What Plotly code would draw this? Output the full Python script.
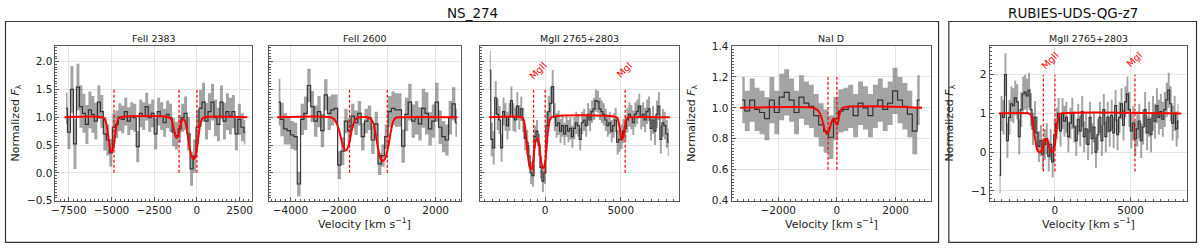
import plotly.graph_objects as go

# ---------------- data ----------------
# NS_274  FeII 2383
fe2383_v = [-7666, -7491, -7316, -7141, -6966, -6791, -6616, -6441, -6266, -6091,
            -5916, -5741, -5566, -5391, -5216, -5041, -4866, -4691, -4516, -4341,
            -4166, -3991, -3816, -3641, -3466, -3291, -3116, -2941, -2766, -2591,
            -2416, -2241, -2066, -1891, -1716, -1541, -1366, -1191, -1016, -841,
            -666, -491, -316, -141, 34, 209, 384, 559, 734, 909,
            1084, 1259, 1434, 1609, 1784, 1959, 2134, 2309, 2484, 2659,
            2834]
fe2383_f = [1.16, 0.73, 1.50, 0.52, 1.54, 1.19, 1.07, 0.87, 1.13, 1.05,
            0.93, 1.27, 1.10, 0.70, 0.59, 0.36, 0.82, 0.87, 1.00, 0.96,
            1.10, 0.93, 1.02, 0.99, 0.47, 1.07, 1.02, 1.19, 0.99, 1.07,
            0.70, 1.10, 1.02, 0.90, 1.05, 0.99, 0.73, 0.67, 0.79, 0.99,
            1.07, 0.70, 0.07, 0.30, 0.82, 1.16, 1.27, 0.93, 1.10, 1.27,
            0.99, 0.87, 1.27, 0.93, 1.10, 1.02, 1.10, 0.70, 0.96, 0.82,
            0.73]
fe2383_e = [0.28, 0.30, 0.42, 0.45, 0.42, 0.38, 0.35, 0.35, 0.33, 0.33,
            0.33, 0.30, 0.30, 0.30, 0.28, 0.25, 0.25, 0.25, 0.25, 0.25,
            0.25, 0.25, 0.25, 0.25, 0.28, 0.25, 0.25, 0.25, 0.25, 0.25,
            0.28, 0.25, 0.25, 0.25, 0.25, 0.25, 0.25, 0.25, 0.25, 0.25,
            0.30, 0.30, 0.30, 0.30, 0.30, 0.33, 0.35, 0.33, 0.33, 0.33,
            0.33, 0.30, 0.30, 0.33, 0.33, 0.33, 0.30, 0.30, 0.28, 0.25,
            0.22]
fe2383_model_v = [-7750, -5550, -5400, -5300, -5200, -5100, -5000, -4900, -4800, -4700,
                  -4600, -4450, -1650, -1500, -1400, -1300, -1200, -1100, -1000, -900,
                  -800, -700, -600, -500, -400, -300, -200, -100, 0, 100,
                  200, 300, 450, 2950]
fe2383_model_f = [1.0, 1.0, 0.97, 0.88, 0.68, 0.47, 0.37, 0.43, 0.65, 0.86,
                  0.97, 1.0, 1.0, 0.96, 0.86, 0.72, 0.63, 0.66, 0.80, 0.93,
                  0.97, 0.93, 0.80, 0.60, 0.40, 0.29, 0.25, 0.28, 0.43, 0.68,
                  0.88, 0.97, 1.0, 1.0]
fe2383_lines = [-4855, -1046, 0]

# NS_274  FeII 2600
fe2600_v = [-4485, -4346, -4207, -4068, -3929, -3790, -3651, -3512, -3373, -3234,
            -3095, -2956, -2817, -2678, -2539, -2400, -2261, -2122, -1983, -1844,
            -1705, -1566, -1427, -1288, -1149, -1010, -871, -732, -593, -454,
            -315, -176, -37, 102, 241, 380, 519, 658, 797, 936,
            1075, 1214, 1353, 1492, 1631, 1770, 1909, 2048, 2187, 2326,
            2465, 2604, 2743, 2882]
fe2600_f = [1.27, 0.96, 0.79, 0.76, 0.68, 0.65, -0.20, 0.96, 1.07, 1.57,
            1.19, 0.93, 1.10, 0.76, 1.40, 1.07, 1.13, 1.16, 0.14, 0.39,
            0.93, 0.76, 1.02, 0.90, 1.07, 0.65, 0.93, 0.99, 0.59, 0.88,
            0.16, 0.31, 0.65, 1.10, 1.16, 1.13, 1.13, 0.48, 1.05, 1.27,
            0.93, 0.99, 0.88, 1.16, 1.07, 0.79, 0.93, 1.27, 0.82, 0.65,
            0.59, 0.99, 1.24, 0.90]
fe2600_e = [0.42, 0.30, 0.28, 0.25, 0.25, 0.25, 0.22, 0.28, 0.30, 0.30,
            0.28, 0.28, 0.28, 0.30, 0.28, 0.30, 0.28, 0.25, 0.25, 0.25,
            0.22, 0.22, 0.22, 0.22, 0.22, 0.25, 0.22, 0.22, 0.25, 0.22,
            0.20, 0.20, 0.22, 0.28, 0.30, 0.30, 0.30, 0.30, 0.30, 0.33,
            0.30, 0.30, 0.30, 0.35, 0.38, 0.30, 0.30, 0.35, 0.30, 0.28,
            0.28, 0.30, 0.30, 0.25]
fe2600_model_v = [-4550, -2350, -2200, -2100, -2000, -1900, -1800, -1720, -1650, -1550,
                  -1450, -1350, -1250, -1100, -800, -650, -550, -450, -350, -250,
                  -150, -50, 50, 150, 250, 350, 500, 2900]
fe2600_model_f = [1.0, 1.0, 0.97, 0.90, 0.78, 0.60, 0.45, 0.40, 0.43, 0.58,
                  0.80, 0.93, 0.99, 1.0, 1.0, 0.96, 0.85, 0.62, 0.38, 0.24,
                  0.22, 0.30, 0.50, 0.75, 0.93, 0.99, 1.0, 1.0]
fe2600_lines = [-1560, 0]

# NS_274  MgII 2765+2803
ns_mg_v = [-3660, -3530, -3400, -3270, -3140, -3010, -2880, -2750, -2620, -2490,
           -2360, -2230, -2100, -1970, -1840, -1710, -1580, -1450, -1320, -1190,
           -1060, -930, -800, -670, -540, -410, -280, -150, -20, 110,
           240, 370, 500, 630, 760, 890, 1020, 1150, 1280, 1410,
           1540, 1670, 1800, 1930, 2060, 2190, 2320, 2450, 2580, 2710,
           2840, 2970, 3100, 3230, 3360, 3490, 3620, 3750, 3880, 4010,
           4140, 4270, 4400, 4530, 4660, 4790, 4920, 5050, 5180, 5310,
           5440, 5570, 5700, 5830, 5960, 6090, 6220, 6350, 6480, 6610,
           6740, 6870, 7000, 7130, 7260, 7390, 7520, 7650, 7780, 7910,
           8040, 8170]
ns_mg_f = [1.84, 0.60, 0.45, 1.35, 1.05, 0.95, 0.45, 1.10, 1.00, 0.85,
           1.00, 1.30, 1.00, 0.95, 1.20, 1.00, 1.15, 0.95, 0.62, 0.55,
           0.30, 0.00, -0.05, 0.65, 0.75, 0.50, 0.10, -0.15, 0.00, 0.85,
           1.10, 1.25, 1.55, 1.00, 0.85, 0.90, 0.75, 0.85, 0.70, 0.85,
           0.75, 0.80, 0.65, 0.80, 0.90, 0.85, 0.60, 0.90, 0.95, 0.85,
           1.05, 0.95, 1.10, 1.15, 1.30, 1.28, 1.15, 1.10, 1.05, 0.95,
           0.85, 0.90, 0.75, 0.85, 0.95, 0.55, 0.60, 0.65, 0.75, 0.80,
           0.95, 1.05, 1.00, 0.90, 1.05, 1.10, 1.20, 1.00, 1.05, 0.95,
           1.10, 1.15, 0.80, 0.95, 0.75, 1.05, 1.20, 0.60, 0.90, 0.85,
           0.70, 0.55]
ns_mg_e = [0.35, 0.30, 0.30, 0.30, 0.28, 0.25, 0.25, 0.25, 0.25, 0.25,
           0.25, 0.25, 0.25, 0.22, 0.25, 0.22, 0.22, 0.22, 0.22, 0.22,
           0.20, 0.20, 0.20, 0.20, 0.20, 0.20, 0.20, 0.20, 0.20, 0.25,
           0.28, 0.30, 0.30, 0.25, 0.22, 0.22, 0.22, 0.20, 0.20, 0.20,
           0.20, 0.20, 0.20, 0.20, 0.20, 0.20, 0.20, 0.20, 0.20, 0.20,
           0.20, 0.20, 0.20, 0.20, 0.20, 0.20, 0.20, 0.20, 0.20, 0.20,
           0.20, 0.20, 0.20, 0.22, 0.22, 0.22, 0.22, 0.22, 0.22, 0.22,
           0.22, 0.22, 0.22, 0.22, 0.22, 0.22, 0.22, 0.22, 0.22, 0.22,
           0.22, 0.22, 0.22, 0.25, 0.25, 0.25, 0.25, 0.25, 0.25, 0.25,
           0.25, 0.25]
ns_mg_model_v = [-3700, -1550, -1450, -1350, -1250, -1150, -1050, -950, -880, -800,
                 -700, -600, -500, -400, -300, -200, -100, 0, 100, 200,
                 300, 420, 4700, 4800, 4900, 5000, 5070, 5150, 5250, 5350,
                 5450, 5550, 8250]
ns_mg_model_f = [1.0, 1.0, 0.97, 0.86, 0.62, 0.34, 0.14, 0.06, 0.07, 0.20,
                 0.45, 0.60, 0.62, 0.52, 0.28, 0.12, 0.08, 0.20, 0.48, 0.78,
                 0.94, 1.0, 1.0, 0.97, 0.85, 0.66, 0.59, 0.64, 0.80, 0.94,
                 0.99, 1.0, 1.0]

# NS_274  NaI D
nad_v = [-3227, -3059, -2891, -2723, -2555, -2387, -2219, -2051, -1883, -1715,
         -1547, -1379, -1211, -1043, -875, -707, -539, -371, -203, -35,
         133, 301, 469, 637, 805, 973, 1141, 1309, 1477, 1645,
         1813, 1981, 2149, 2317, 2485, 2653, 2821]
nad_f = [1.05, 0.98, 1.05, 0.99, 0.97, 0.93, 1.05, 0.97, 1.07, 1.10,
         1.05, 0.97, 1.07, 1.03, 1.01, 0.95, 0.89, 0.85, 0.81, 0.93,
         0.98, 0.99, 1.01, 0.95, 1.03, 1.00, 0.95, 1.01, 1.05, 0.99,
         1.03, 1.11, 1.05, 1.01, 0.96, 0.85, 1.05]
nad_e = [0.15, 0.13, 0.14, 0.14, 0.14, 0.14, 0.15, 0.14, 0.15, 0.15,
         0.14, 0.14, 0.14, 0.14, 0.14, 0.14, 0.14, 0.14, 0.14, 0.14,
         0.14, 0.14, 0.14, 0.14, 0.14, 0.14, 0.14, 0.14, 0.14, 0.14,
         0.14, 0.15, 0.15, 0.15, 0.15, 0.15, 0.16]
nad_model_v = [-3300, -800, -700, -600, -500, -420, -340, -270, -200, -130,
               -80, -30, 10, 60, 120, 200, 2900]
nad_model_f = [1.0, 1.0, 0.99, 0.97, 0.92, 0.86, 0.83, 0.85, 0.90, 0.93,
               0.92, 0.90, 0.89, 0.93, 0.98, 1.0, 1.0]
nad_lines = [-304, 0]

# RUBIES-UDS-QG-z7  MgII 2765+2803
rb_mg_v = [-3660, -3530, -3400, -3270, -3140, -3010, -2880, -2750, -2620, -2490,
           -2360, -2230, -2100, -1970, -1840, -1710, -1580, -1450, -1320, -1190,
           -1060, -930, -800, -670, -540, -410, -280, -150, -20, 110,
           240, 370, 500, 630, 760, 890, 1020, 1150, 1280, 1410,
           1540, 1670, 1800, 1930, 2060, 2190, 2320, 2450, 2580, 2710,
           2840, 2970, 3100, 3230, 3360, 3490, 3620, 3750, 3880, 4010,
           4140, 4270, 4400, 4530, 4660, 4790, 4920, 5050, 5180, 5310,
           5440, 5570, 5700, 5830, 5960, 6090, 6220, 6350, 6480, 6610,
           6740, 6870, 7000, 7130, 7260, 7390, 7520, 7650, 7780, 7910,
           8040, 8170]
rb_mg_f = [-0.60, 1.00, 0.90, 2.00, 0.30, 0.90, 1.25, 1.20, 1.40, 1.30,
           0.40, 1.10, 1.50, 1.55, 1.45, 1.60, 1.10, 0.60, 0.90, 0.50,
           0.15, 0.30, -0.05, 0.20, 0.35, -0.10, 0.20, -0.25, 0.45, 0.75,
           1.00, 0.55, 1.00, 0.80, 0.90, 0.40, 0.75, 1.00, 0.65, 0.30,
           0.85, 0.55, 1.05, 0.40, 0.60, 0.20, 0.90, 0.35, 0.65, 0.00,
           0.45, 0.90, 0.30, 1.10, 0.40, 0.90, 0.55, 0.95, 0.50, 1.20,
           0.45, 0.90, 1.25, 0.70, 1.30, 1.50, 1.10, 0.55, 0.75, 0.35,
           0.60, 0.80, 0.30, 0.65, 1.10, 0.50, 0.85, 0.45, 1.00, 0.80,
           1.20, 0.90, 1.05, 0.85, 1.10, 1.35, 1.60, 1.25, 0.75, 1.00,
           0.60, 0.80]
rb_mg_e = [0.45, 0.45, 0.45, 0.55, 0.45, 0.45, 0.45, 0.45, 0.45, 0.45,
           0.45, 0.45, 0.45, 0.45, 0.45, 0.45, 0.42, 0.42, 0.42, 0.42,
           0.40, 0.40, 0.40, 0.40, 0.40, 0.40, 0.40, 0.40, 0.40, 0.40,
           0.40, 0.40, 0.40, 0.40, 0.40, 0.40, 0.40, 0.40, 0.40, 0.40,
           0.40, 0.40, 0.40, 0.40, 0.40, 0.40, 0.40, 0.40, 0.40, 0.40,
           0.40, 0.40, 0.40, 0.40, 0.40, 0.40, 0.40, 0.40, 0.40, 0.40,
           0.40, 0.40, 0.40, 0.40, 0.40, 0.45, 0.45, 0.45, 0.45, 0.45,
           0.45, 0.45, 0.45, 0.45, 0.45, 0.45, 0.45, 0.45, 0.45, 0.45,
           0.45, 0.45, 0.45, 0.45, 0.45, 0.45, 0.45, 0.45, 0.45, 0.45,
           0.45, 0.45]
rb_mg_model_v = [-3700, -1750, -1600, -1500, -1400, -1300, -1200, -1100, -1000, -900,
                 -800, -700, -600, -500, -400, -300, -200, -100, 0, 100,
                 200, 300, 420, 8350]
rb_mg_model_f = [1.0, 1.0, 0.97, 0.85, 0.60, 0.32, 0.10, 0.02, 0.0, 0.03,
                 0.15, 0.30, 0.35, 0.30, 0.15, 0.03, 0.0, 0.03, 0.20, 0.55,
                 0.85, 0.97, 1.0, 1.0]

mg_lines = [-768, 0, 5289]
mg_labels = ["MgII", "MgI"]

panel_titles = ["FeII 2383", "FeII 2600", "MgII 2765+2803", "NaI D", "MgII 2765+2803"]
group_titles = ["NS_274", "RUBIES-UDS-QG-z7"]

x_ticks = [[-7500, -5000, -2500, 0, 2500], [-4000, -2000, 0, 2000], [0, 5000],
           [-2000, 0, 2000], [0, 5000]]
y_ticks_a = [-0.5, 0.0, 0.5, 1.0, 1.5, 2.0]
y_ticks_nad = [0.4, 0.6, 0.8, 1.0, 1.2, 1.4]
y_ticks_rb = [-1, 0, 1, 2]

# ---------------- layout constants ----------------
W, H = 1200, 250
FONT = "DejaVu Sans"
FRAME = "#5a5a5a"
GRID = "#e4e4e4"
BAND = "rgba(90,90,90,0.55)"
STEP = "rgba(30,30,30,0.85)"
RED = "#ff0000"

def fx(px):
    return px / W

def fy(py):
    return 1 - py / H

top_px, bot_px = 42.0, 204.5
ydom = [fy(bot_px), fy(top_px)]

panels = [
    dict(v=fe2383_v, f=fe2383_f, e=fe2383_e, mv=fe2383_model_v, mf=fe2383_model_f,
         lines=fe2383_lines, lspan=(0.0, 1.5), xdom=(51.7, 249.0), xr=[-8280, 3220],
         yr=[-0.5, 2.28], yt=y_ticks_a, ytxt=True, yfmt="{:.1f}", xminor=250, yminor=0.05,
         ylabel=True, xlabel=False),
    dict(v=fe2600_v, f=fe2600_f, e=fe2600_e, mv=fe2600_model_v, mf=fe2600_model_f,
         lines=fe2600_lines, lspan=(0.0, 1.5), xdom=(266.0, 459.0), xr=[-4890, 3050],
         yr=[-0.5, 2.28], yt=y_ticks_a, ytxt=False, yfmt="{:.1f}", xminor=200, yminor=0.05,
         ylabel=False, xlabel=True),
    dict(v=ns_mg_v, f=ns_mg_f, e=ns_mg_e, mv=ns_mg_model_v, mf=ns_mg_model_f,
         lines=mg_lines, lspan=(0.0, 1.5), xdom=(477.5, 678.3), xr=[-4340, 8880],
         yr=[-0.5, 2.28], yt=y_ticks_a, ytxt=False, yfmt="{:.1f}", xminor=500, yminor=0.05,
         ylabel=False, xlabel=False,
         labels=[(-470, 1.84), (5270, 1.85)]),
    dict(v=nad_v, f=nad_f, e=nad_e, mv=nad_model_v, mf=nad_model_f,
         lines=nad_lines, lspan=(0.6, 1.2), xdom=(730.7, 930.7), xr=[-3590, 3200],
         yr=[0.4, 1.4], yt=y_ticks_nad, ytxt=True, yfmt="{:.1f}", xminor=200, yminor=0.02,
         ylabel=True, xlabel=True),
    dict(v=rb_mg_v, f=rb_mg_f, e=rb_mg_e, mv=rb_mg_model_v, mf=rb_mg_model_f,
         lines=mg_lines, lspan=(-0.5, 2.0), xdom=(989.7, 1188.3), xr=[-4320, 8750],
         yr=[-1.25, 2.74], yt=y_ticks_rb, ytxt=True, yfmt="{:d}", xminor=500, yminor=0.1,
         ylabel=True, xlabel=True,
         labels=[(-350, 2.37), (5230, 2.39)]),
]

def fmt_num(val, f):
    s = f.format(val)
    return s.replace("-", "\u2212")

fig = go.Figure()
annotations = []
shapes = []

for i, p in enumerate(panels):
    n = i + 1
    xa = "x" if n == 1 else f"x{n}"
    ya = "y" if n == 1 else f"y{n}"
    upper = [a + b for a, b in zip(p["f"], p["e"])]
    lower = [a - b for a, b in zip(p["f"], p["e"])]
    fig.add_trace(go.Scatter(x=p["v"], y=upper, mode="lines", line=dict(width=0, shape="hvh"),
                             xaxis=xa, yaxis=ya, showlegend=False, hoverinfo="skip"))
    fig.add_trace(go.Scatter(x=p["v"], y=lower, mode="lines", line=dict(width=0, shape="hvh"),
                             fill="tonexty", fillcolor=BAND,
                             xaxis=xa, yaxis=ya, showlegend=False, hoverinfo="skip"))
    fig.add_trace(go.Scatter(x=p["v"], y=p["f"], mode="lines",
                             line=dict(color=STEP, width=1.2, shape="hvh"),
                             xaxis=xa, yaxis=ya, showlegend=False))
    for lv in p["lines"]:
        fig.add_trace(go.Scatter(x=[lv, lv], y=list(p["lspan"]), mode="lines",
                                 line=dict(color=RED, width=1.2, dash="3px,2px"),
                                 xaxis=xa, yaxis=ya, showlegend=False))
    fig.add_trace(go.Scatter(x=p["mv"], y=p["mf"], mode="lines",
                             line=dict(color=RED, width=2.0, shape="spline", smoothing=0.8),
                             xaxis=xa, yaxis=ya, showlegend=False))

    tick_font = dict(family=FONT, size=10.5, color="#222222")
    xaxis = dict(
        domain=[fx(p["xdom"][0]), fx(p["xdom"][1])], anchor=ya, range=p["xr"],
        tickmode="array", tickvals=x_ticks[i],
        ticktext=[fmt_num(t, "{:d}") for t in x_ticks[i]],
        ticks="inside", ticklen=4, tickwidth=1, tickcolor=FRAME,
        minor=dict(tickmode="linear", tick0=0, dtick=p["xminor"], ticks="inside",
                   ticklen=2, tickwidth=0.8, tickcolor=FRAME, showgrid=False),
        showgrid=True, gridcolor=GRID, gridwidth=1, zeroline=False,
        showline=True, linecolor=FRAME, linewidth=1, mirror=True,
        tickfont=tick_font, fixedrange=True,
    )
    yaxis = dict(
        domain=ydom, anchor=xa, range=p["yr"],
        tickmode="array", tickvals=p["yt"],
        ticktext=[fmt_num(t, p["yfmt"]) for t in p["yt"]],
        showticklabels=p["ytxt"],
        ticks="inside", ticklen=4, tickwidth=1, tickcolor=FRAME,
        minor=dict(tickmode="linear", tick0=0, dtick=p["yminor"], ticks="inside",
                   ticklen=2, tickwidth=0.8, tickcolor=FRAME, showgrid=False),
        showgrid=True, gridcolor=GRID, gridwidth=1, zeroline=False,
        showline=True, linecolor=FRAME, linewidth=1, mirror=True,
        tickfont=tick_font, fixedrange=True,
    )
    fig.update_layout(**{("xaxis" if n == 1 else f"xaxis{n}"): xaxis,
                         ("yaxis" if n == 1 else f"yaxis{n}"): yaxis})

    cx = (p["xdom"][0] + p["xdom"][1]) / 2
    annotations.append(dict(text=panel_titles[i], xref="paper", yref="paper",
                            x=fx(cx), y=fy(34.5), showarrow=False,
                            xanchor="center", yanchor="middle",
                            font=dict(family=FONT, size=9.5, color="#222222")))
    if p["xlabel"]:
        annotations.append(dict(text="Velocity [km s<sup>\u22121</sup>]", xref="paper", yref="paper",
                                x=fx(cx), y=fy(228.5), showarrow=False,
                                xanchor="center", yanchor="middle",
                                font=dict(family=FONT, size=11, color="#222222")))
    if p["ylabel"]:
        annotations.append(dict(text="Normalized <i>F</i><sub>\u03bb</sub>", xref="paper", yref="paper",
                                x=fx(p["xdom"][0] - 39.5), y=fy((top_px + bot_px) / 2),
                                showarrow=False, textangle=-90,
                                xanchor="center", yanchor="middle",
                                font=dict(family=FONT, size=11, color="#222222")))
    if "labels" in p:
        for (lx, ly), txt in zip(p["labels"], mg_labels):
            annotations.append(dict(text=txt, xref=xa, yref=ya, x=lx, y=ly,
                                    showarrow=False, textangle=-45,
                                    xanchor="center", yanchor="middle",
                                    font=dict(family=FONT, size=9.5, color=RED)))

# group boxes and titles
boxes = [(1.5, 938.5), (948.8, 1197.5)]
for (x0, x1), t in zip(boxes, group_titles):
    shapes.append(dict(type="rect", xref="paper", yref="paper",
                       x0=fx(x0), x1=fx(x1), y0=fy(248.3), y1=fy(16.3),
                       line=dict(color="#333333", width=1.2), fillcolor="rgba(0,0,0,0)"))
    annotations.append(dict(text=t, xref="paper", yref="paper", x=fx((x0 + x1) / 2), y=fy(7.5),
                            showarrow=False, xanchor="center", yanchor="middle",
                            font=dict(family=FONT, size=13.5, color="#111111")))

fig.update_layout(
    width=W, height=H, margin=dict(l=0, r=0, t=0, b=0),
    paper_bgcolor="white", plot_bgcolor="white",
    annotations=annotations, shapes=shapes, showlegend=False,
    font=dict(family=FONT),
)

fig.write_html("out.html", config={"displayModeBar": False},
               post_script="document.body.style.margin='0';")
